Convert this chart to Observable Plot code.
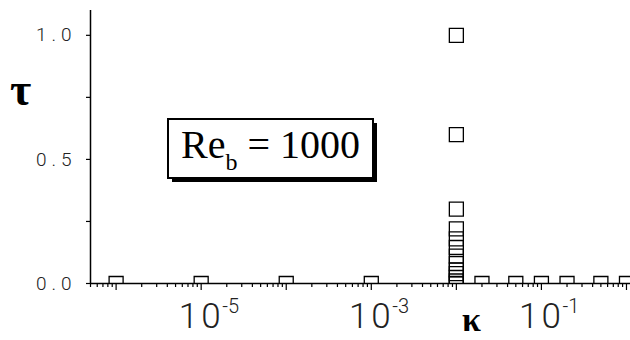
<!DOCTYPE html>
<html>
<head>
<meta charset="utf-8">
<script src="https://cdn.jsdelivr.net/npm/d3@7"></script>
<script src="https://cdn.jsdelivr.net/npm/@observablehq/plot@0.6"></script>
<style>
  html, body { margin: 0; padding: 0; background: #fff; }
  #chart { position: relative; width: 630px; height: 340px; }
  g[aria-label="y-axis tick label"] text { letter-spacing: 5px; }
</style>
</head>
<body>
<div id="chart"></div>
<script>
// Wavenumber κ and growth τ of each computed mode (Re_b = 1000)
const kappa = [1e-6, 1e-5, 1e-4, 1e-3,
  1e-2, 1e-2, 1e-2, 1e-2, 1e-2, 1e-2, 1e-2, 1e-2, 1e-2, 1e-2, 1e-2, 1e-2, 1e-2,
  2e-2, 5e-2, 1e-1, 2e-1, 5e-1, 1];
const tau = [0, 0, 0, 0,
  1.0, 0.6, 0.3, 0.22, 0.18, 0.145, 0.11, 0.08, 0.055, 0.04, 0.025, 0.01, 0,
  0, 0, 0, 0, 0, 0];

// Axis ticks
const yTicks = [0, 0.25, 0.5, 0.75, 1];
const yLabels = [0, 0.5, 1];
const decadeTicks = [1e-6, 1e-5, 1e-4, 1e-3, 1e-2, 1e-1, 1];
const labelExponents = [-5, -3, -1];
const minorTicks = d3.range(-7, 1)
  .flatMap(e => d3.range(2, 10).map(m => m * 10 ** e))
  .filter(v => v >= 5e-7 && v <= 1.1);

const points = kappa.map((k, i) => ({kappa: k, tau: tau[i]}));

const serif = "'Liberation Serif', 'DejaVu Serif', serif";
const thin = "Roboto, 'Liberation Sans', sans-serif";

const chart = Plot.plot({
  width: 630,
  height: 340,
  marginLeft: 90,
  marginRight: 0,
  marginTop: 10,
  marginBottom: 57,
  style: {background: "white", fontFamily: thin, color: "black"},
  x: {type: "log", domain: [5e-7, 1.115]},
  y: {domain: [0, 1.1]},
  marks: [
    Plot.axisX(minorTicks, {tickSize: 4, tickFormat: () => "", label: null, strokeWidth: 1.2}),
    Plot.axisX(decadeTicks, {tickSize: 7, tickFormat: () => "", label: null, strokeWidth: 1.2}),
    Plot.axisY(yTicks, {
      tickSize: 4, tickPadding: 10, label: null, strokeWidth: 1.2,
      tickFormat: d => yLabels.includes(d) ? d3.format(".1f")(d) : "",
      fontSize: 19, fontWeight: 300, fill: "#222"
    }),
    Plot.ruleY([0], {strokeWidth: 1.5}),
    Plot.ruleX([5e-7], {strokeWidth: 1.5}),
    Plot.dot(points, {
      x: "kappa", y: "tau", symbol: "square", r: 7.9,
      stroke: "black", fill: "none", strokeWidth: 1.3, clip: true
    }),
    // decade labels: "10" with a raised exponent
    Plot.text(labelExponents, {
      x: e => 10 ** e, text: () => "10", frameAnchor: "bottom", lineAnchor: "middle",
      dx: 0, dy: 33, fontSize: 35, fontWeight: 300, fill: "#222", fontFamily: thin
    }),
    Plot.text(labelExponents, {
      x: e => 10 ** e, text: e => String(e), frameAnchor: "bottom", textAnchor: "start", lineAnchor: "middle",
      dx: 21, dy: 23, fontSize: 20, fontWeight: 300, fill: "#222", fontFamily: thin
    }),
    Plot.text(["τ"], {
      frameAnchor: "top-left", textAnchor: "middle", lineAnchor: "middle", dx: -70, dy: 80,
      fontSize: 46, fontWeight: "bold", fontFamily: serif
    }),
    Plot.text(["κ"], {
      frameAnchor: "bottom-left", textAnchor: "middle", lineAnchor: "middle", dx: 381, dy: 37,
      fontSize: 34, fontWeight: "bold", fontFamily: serif
    })
  ]
});

document.getElementById("chart").append(chart);

const svg = d3.select(chart);

// open up the digits of the decade labels
svg.selectAll("text").filter(function () { return this.textContent === "10"; })
  .style("letter-spacing", "3px");

// Boxed annotation with drop shadow
const note = svg.append("g").attr("aria-label", "annotation");
note.append("rect").attr("x", 172).attr("y", 123).attr("width", 205).attr("height", 59).attr("fill", "black");
note.append("rect").attr("x", 168).attr("y", 119).attr("width", 205).attr("height", 59)
  .attr("fill", "white").attr("stroke", "black").attr("stroke-width", 2);
const t = note.append("text").attr("x", 181).attr("y", 158).attr("text-anchor", "start")
  .attr("font-family", serif).attr("font-size", 40).attr("fill", "black");
t.append("tspan").text("Re");
t.append("tspan").attr("font-size", 24).attr("dy", 12).text("b");
t.append("tspan").attr("dy", -12).text(" = 1000");
</script>
</body>
</html>
